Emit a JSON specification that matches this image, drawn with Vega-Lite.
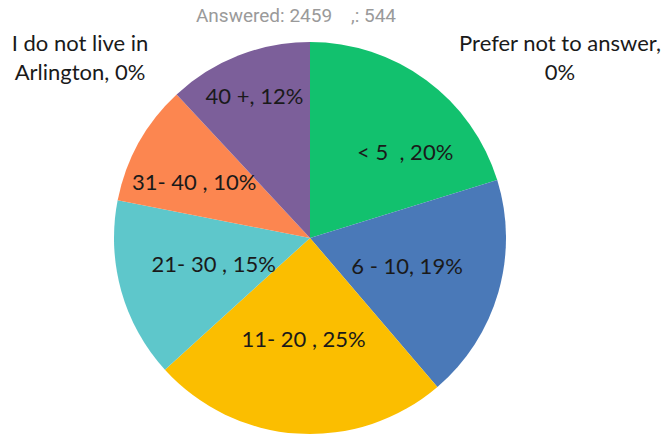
{
  "$schema": "https://vega.github.io/schema/vega-lite/v6.json",
  "width": 620,
  "height": 402,
  "autosize": {"type": "none"},
  "padding": {"left": 0, "top": 37, "right": 48, "bottom": 0},
  "background": "white",
  "title": {
    "text": "Answered: 2459\u00a0\u00a0\u00a0\u00a0,: 544",
    "font": "Roboto",
    "fontSize": 19,
    "fontWeight": "normal",
    "color": "#9a9a9a",
    "anchor": "middle",
    "baseline": "middle",
    "offset": -2,
    "dx": -14
  },
  "data": {
    "values": [
      {"idx": 1, "category": "< 5", "pct": 20.2, "label": "< 5\u00a0\u00a0, 20%"},
      {"idx": 2, "category": "6 - 10", "pct": 18.5, "label": "6 - 10, 19%"},
      {"idx": 3, "category": "11- 20", "pct": 24.5, "label": "11- 20 , 25%"},
      {"idx": 4, "category": "21- 30", "pct": 14.8, "label": "21- 30 , 15%"},
      {"idx": 5, "category": "31- 40", "pct": 10.0, "label": "31- 40 , 10%"},
      {"idx": 6, "category": "40 +", "pct": 11.9, "label": "40 +, 12%"},
      {"idx": 7, "category": "I do not live in Arlington", "pct": 0, "label": ["I do not live in", "Arlington, 0%"]},
      {"idx": 8, "category": "Prefer not to answer", "pct": 0, "label": ["Prefer not to answer,", "0%"]}
    ]
  },
  "encoding": {
    "theta": {"field": "pct", "type": "quantitative", "stack": true},
    "order": {"field": "idx", "type": "quantitative"}
  },
  "layer": [
    {
      "mark": {"type": "arc", "outerRadius": 196},
      "encoding": {
        "color": {
          "field": "category",
          "type": "nominal",
          "legend": null,
          "scale": {
            "domain": ["< 5", "6 - 10", "11- 20", "21- 30", "31- 40", "40 +", "I do not live in Arlington", "Prefer not to answer"],
            "range": ["#12C16E", "#4A79B8", "#FBBE00", "#5EC7CB", "#FC8650", "#7C5F9A", "#999999", "#cccccc"]
          }
        }
      }
    },
    {
      "mark": {"type": "text", "radius": 125, "dx": 21, "dy": 16, "font": "Lato", "fontSize": 22, "color": "#1a1a1a"},
      "encoding": {"text": {"condition": {"test": "datum.idx == 1", "field": "label"}, "value": ""}}
    },
    {
      "mark": {"type": "text", "radius": 101, "dx": 0, "dy": 1, "font": "Lato", "fontSize": 22, "color": "#1a1a1a"},
      "encoding": {"text": {"condition": {"test": "datum.idx == 2", "field": "label"}, "value": ""}}
    },
    {
      "mark": {"type": "text", "radius": 102, "font": "Lato", "fontSize": 22, "color": "#1a1a1a"},
      "encoding": {"text": {"condition": {"test": "datum.idx == 3", "field": "label"}, "value": ""}}
    },
    {
      "mark": {"type": "text", "radius": 100, "font": "Lato", "fontSize": 22, "color": "#1a1a1a"},
      "encoding": {"text": {"condition": {"test": "datum.idx == 4", "field": "label"}, "value": ""}}
    },
    {
      "mark": {"type": "text", "radius": 128, "dx": -4, "dy": 7, "font": "Lato", "fontSize": 22, "color": "#1a1a1a"},
      "encoding": {"text": {"condition": {"test": "datum.idx == 5", "field": "label"}, "value": ""}}
    },
    {
      "mark": {"type": "text", "radius": 152, "font": "Lato", "fontSize": 22, "color": "#1a1a1a"},
      "encoding": {"text": {"condition": {"test": "datum.idx == 6", "field": "label"}, "value": ""}}
    },
    {
      "mark": {"type": "text", "radius": 194, "dx": -230, "font": "Lato", "fontSize": 22, "lineHeight": 29, "color": "#1a1a1a"},
      "encoding": {"text": {"condition": {"test": "datum.idx == 7", "field": "label"}, "value": ""}}
    },
    {
      "mark": {"type": "text", "radius": 194, "dx": 250, "font": "Lato", "fontSize": 22, "lineHeight": 29, "color": "#1a1a1a"},
      "encoding": {"text": {"condition": {"test": "datum.idx == 8", "field": "label"}, "value": ""}}
    }
  ]
}
